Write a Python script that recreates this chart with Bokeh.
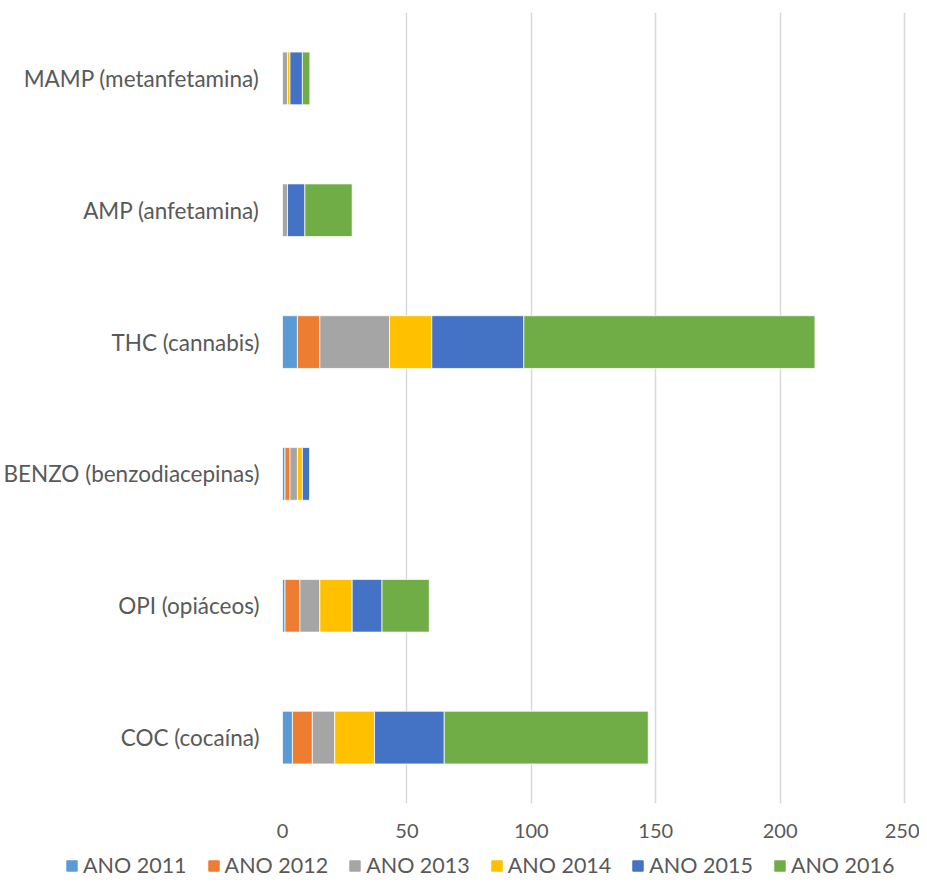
from bokeh.plotting import figure
from bokeh.layouts import column
from bokeh.models import ColumnDataSource, Range1d, FactorRange, Legend, LegendItem, FixedTicker
from bokeh.embed import file_html
from bokeh.resources import INLINE

categories = ["COC (cocaína)", "OPI (opiáceos)", "BENZO (benzodiacepinas)",
              "THC (cannabis)", "AMP (anfetamina)", "MAMP (metanfetamina)"]
years = ["ANO 2011", "ANO 2012", "ANO 2013", "ANO 2014", "ANO 2015", "ANO 2016"]
ano_2011 = [4, 1, 1, 6, 0, 0]
ano_2012 = [8, 6, 2, 9, 0, 0]
ano_2013 = [9, 8, 3, 28, 2, 2]
ano_2014 = [16, 13, 2, 17, 0, 1]
ano_2015 = [28, 12, 3, 37, 7, 5]
ano_2016 = [82, 19, 0, 117, 19, 3]
x_ticks = [0, 50, 100, 150, 200, 250]
colors = ["#5B9BD5", "#ED7D31", "#A5A5A5", "#FFC000", "#4472C4", "#70AD47"]

FONT = "Lato"
TXT = "#595959"
W = 919

source = ColumnDataSource(dict(cat=categories, **{
    "ANO 2011": ano_2011, "ANO 2012": ano_2012, "ANO 2013": ano_2013,
    "ANO 2014": ano_2014, "ANO 2015": ano_2015, "ANO 2016": ano_2016}))

p = figure(width=W, height=846, output_backend="svg", toolbar_location=None,
           y_range=FactorRange(*categories, range_padding=0),
           x_range=Range1d(0, 250.8),
           min_border_left=277, min_border_right=13, min_border_top=12, min_border_bottom=43)
p.frame_align = False
p.outline_line_color = None
p.background_fill_color = "white"
p.border_fill_color = "white"

renderers = p.hbar_stack(years, y="cat", height=0.4, color=colors, source=source,
                         line_color="white", line_width=0.75)

p.xaxis.ticker = FixedTicker(ticks=x_ticks)
p.xaxis.axis_line_color = None
p.xaxis.major_tick_line_color = None
p.xaxis.minor_tick_line_color = None
p.xaxis.major_label_text_font = FONT
p.xaxis.major_label_text_font_size = "20px"
p.xaxis.major_label_text_color = TXT
p.xaxis.major_label_standoff = 14

p.yaxis.axis_line_color = None
p.yaxis.major_tick_line_color = None
p.yaxis.minor_tick_line_color = None
p.yaxis.major_label_text_font = FONT
p.yaxis.major_label_text_font_size = "22.5px"
p.yaxis.major_label_text_color = TXT
p.yaxis.major_label_standoff = 17

p.ygrid.grid_line_color = None
p.xgrid.grid_line_color = "#D9D9D9"
p.xgrid.grid_line_width = 1.5

# legend strip: a second figure whose swatches reuse the bar colours
lg = figure(width=W, height=32, output_backend="svg", toolbar_location=None,
            x_range=Range1d(0, 1), y_range=Range1d(0, 1),
            x_axis_location=None, y_axis_location=None,
            min_border_left=65, min_border_right=0, min_border_top=0, min_border_bottom=0,
            outline_line_color=None)
lg.frame_align = False
lg.grid.visible = False
swatches = [lg.rect(x=[-10], y=[-10], width=1, height=1, color=c) for c in colors]
items = [LegendItem(label=y, renderers=[r]) for y, r in zip(years, swatches)]
legend = Legend(items=items, orientation="horizontal", location="bottom_left",
                padding=0, margin=0, spacing=20, glyph_width=13, glyph_height=13,
                label_standoff=5, label_text_font=FONT, label_text_font_size="21.5px",
                label_text_color=TXT, border_line_color=None, background_fill_alpha=0)
lg.add_layout(legend, "center")

layout = column(p, lg, spacing=0)
open("out.html", "w").write(file_html(layout, INLINE))
